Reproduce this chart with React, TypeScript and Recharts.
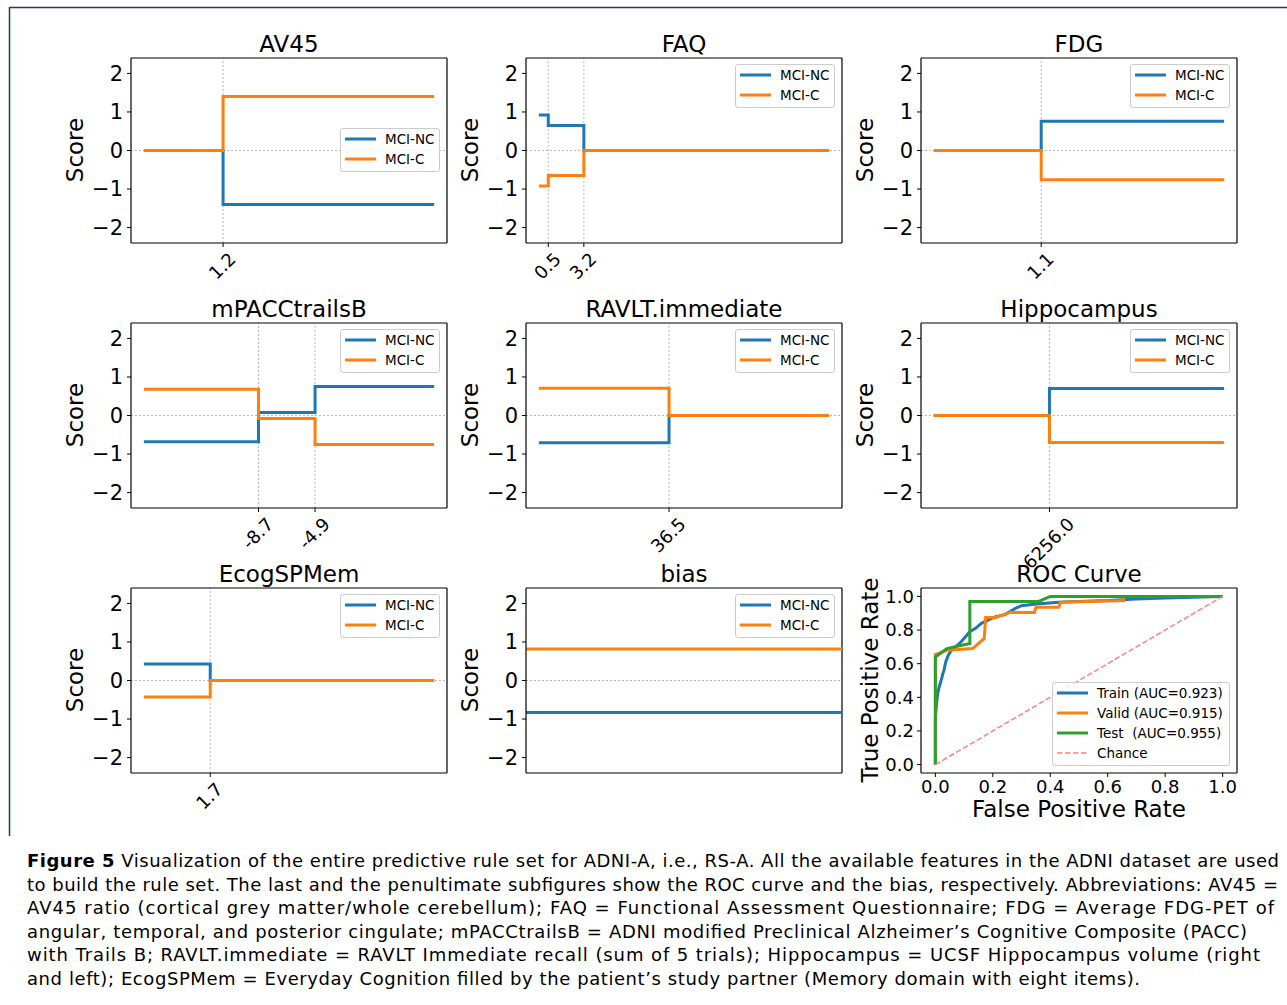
import React from 'react';
import { LineChart, Line, XAxis, YAxis, ReferenceLine, Legend } from 'recharts';

const BLUE = '#1f77b4';
const ORANGE = '#ff7f0e';
const GREEN = '#2ca02c';
const CHANCE = '#ff8080';
const GRIDC = '#b0b0b0';
const FONT = '"DejaVu Sans", Verdana, sans-serif';

// rule plots: breakpoints on the feature axis, score for MCI-NC / MCI-C, cut points
const av45X = [0.87, 1.2, 2.09];
const av45NC = [0, -1.4, -1.4];
const av45C = [0, 1.4, 1.4];
const av45Cuts = [1.2];

const faqX = [-0.1, 0.5, 3.2, 21.7];
const faqNC = [0.92, 0.65, 0, 0];
const faqC = [-0.92, -0.65, 0, 0];
const faqCuts = [0.5, 3.2];

const fdgX = [0.75, 1.1, 1.7];
const fdgNC = [0, 0.76, 0.76];
const fdgC = [0, -0.76, -0.76];
const fdgCuts = [1.1];

const mpaccX = [-16.3, -8.7, -4.9, 3.0];
const mpaccNC = [-0.68, 0.08, 0.75, 0.75];
const mpaccC = [0.68, -0.08, -0.75, -0.75];
const mpaccCuts = [-8.7, -4.9];

const ravltX = [15, 36.5, 63];
const ravltNC = [-0.71, 0, 0];
const ravltC = [0.71, 0, 0];
const ravltCuts = [36.5];

const hippoX = [4000, 6256, 9680];
const hippoNC = [0, 0.7, 0.7];
const hippoC = [0, -0.7, -0.7];
const hippoCuts = [6256];

const ecogX = [1.0, 1.7, 4.1];
const ecogNC = [0.43, 0, 0];
const ecogC = [-0.43, 0, 0];
const ecogCuts = [1.7];

const biasX = [0, 1];
const biasNC = [-0.83, -0.83];
const biasC = [0.82, 0.82];

const scoreTicks = [-2, -1, 0, 1, 2];

// ROC curves
const trainFpr = [0, 0, 0.004, 0.008, 0.013, 0.02, 0.026, 0.03, 0.036, 0.045, 0.056, 0.07, 0.09, 0.105, 0.12, 0.14, 0.16, 0.185, 0.21, 0.24, 0.26, 0.28, 0.3, 0.35, 0.43, 0.5, 0.6, 0.7, 0.8, 0.9, 1.0];
const trainTpr = [0, 0.28, 0.36, 0.42, 0.46, 0.5, 0.54, 0.56, 0.61, 0.65, 0.68, 0.7, 0.73, 0.76, 0.79, 0.81, 0.84, 0.86, 0.88, 0.89, 0.91, 0.93, 0.945, 0.955, 0.965, 0.97, 0.975, 0.985, 0.99, 0.995, 1.0];
const validFpr = [0, 0, 0.04, 0.13, 0.17, 0.175, 0.21, 0.26, 0.345, 0.35, 0.43, 0.435, 0.655, 0.655, 1.0];
const validTpr = [0, 0.655, 0.68, 0.69, 0.75, 0.875, 0.875, 0.905, 0.905, 0.935, 0.935, 0.965, 0.975, 1.0, 1.0];
const testFpr = [0, 0, 0.04, 0.12, 0.12, 0.36, 0.4, 1.0];
const testTpr = [0, 0.64, 0.69, 0.72, 0.97, 0.97, 1.0, 1.0];
const chanceFpr = [0, 1];
const chanceTpr = [0, 1];
const rocTicks = [0, 0.2, 0.4, 0.6, 0.8, 1.0];

const captionLines = [
  ' Visualization of the entire predictive rule set for ADNI-A, i.e., RS-A. All the available features in the ADNI dataset are used',
  'to build the rule set. The last and the penultimate subfigures show the ROC curve and the bias, respectively. Abbreviations: AV45 =',
  'AV45 ratio (cortical grey matter/whole cerebellum); FAQ = Functional Assessment Questionnaire; FDG = Average FDG-PET of',
  'angular, temporal, and posterior cingulate; mPACCtrailsB = ADNI modified Preclinical Alzheimer\u2019s Cognitive Composite (PACC)',
  'with Trails B; RAVLT.immediate = RAVLT Immediate recall (sum of 5 trials); Hippocampus = UCSF Hippocampus volume (right',
  'and left); EcogSPMem = Everyday Cognition filled by the patient\u2019s study partner (Memory domain with eight items).',
];
const captionEnds = [1279, 1278, 1274, 1247, 1260, 1140];

interface Panel {
  title: string;
  xs: number[];
  nc: number[];
  c: number[];
  cuts: number[];
  col: number;
  row: number;
  legend: 'upper' | 'center';
  pad: boolean;
}

const panels: Panel[] = [
  { title: 'AV45', xs: av45X, nc: av45NC, c: av45C, cuts: av45Cuts, col: 0, row: 0, legend: 'center', pad: true },
  { title: 'FAQ', xs: faqX, nc: faqNC, c: faqC, cuts: faqCuts, col: 1, row: 0, legend: 'upper', pad: true },
  { title: 'FDG', xs: fdgX, nc: fdgNC, c: fdgC, cuts: fdgCuts, col: 2, row: 0, legend: 'upper', pad: true },
  { title: 'mPACCtrailsB', xs: mpaccX, nc: mpaccNC, c: mpaccC, cuts: mpaccCuts, col: 0, row: 1, legend: 'upper', pad: true },
  { title: 'RAVLT.immediate', xs: ravltX, nc: ravltNC, c: ravltC, cuts: ravltCuts, col: 1, row: 1, legend: 'upper', pad: true },
  { title: 'Hippocampus', xs: hippoX, nc: hippoNC, c: hippoC, cuts: hippoCuts, col: 2, row: 1, legend: 'upper', pad: true },
  { title: 'EcogSPMem', xs: ecogX, nc: ecogNC, c: ecogC, cuts: ecogCuts, col: 0, row: 2, legend: 'upper', pad: true },
  { title: 'bias', xs: biasX, nc: biasNC, c: biasC, cuts: [], col: 1, row: 2, legend: 'upper', pad: false },
];

// plot area placement (page px)
const COLS = [131, 526, 921];
const ROWS = [57.5, 322.5, 587.5];
const PW = 316;
const PH = 185;
const SW = 60; // y axis width
const ST = 10; // top margin
const SR = 10;
const SXH = 75; // x axis height
const LABEL_FS = 23;

const AXLINE = { stroke: '#000', strokeWidth: 1.2 };
const TICKLINE = { stroke: '#000', strokeWidth: 1 };

const minus = (v: number) => (v < 0 ? `\u2212${Math.abs(v)}` : `${v}`);

const ROT_FS = 18;
const labelWidth = (s: string) =>
  s.split('').reduce((a, ch) => a + (ch === '.' ? 0.318 : ch === '-' ? 0.361 : 0.636), 0) * ROT_FS;

const RotTick = (props: any) => {
  const { x, y, payload } = props;
  const label = Number(payload.value).toFixed(1);
  const half = (labelWidth(label) + 0.75 * ROT_FS) / Math.SQRT2 / 2;
  return (
    <g transform={`translate(${x - 1},${y + half + 2})`}>
      <text transform="rotate(-45)" textAnchor="middle" dominantBaseline="central" fontSize={ROT_FS} fontFamily={FONT} fill="#000">
        {label}
      </text>
    </g>
  );
};

interface LegendItem {
  label: string;
  color: string;
  dash?: string;
  w?: number;
}

const LegendBox = ({ items, width }: { items: LegendItem[]; width: number }) => (
  <div
    style={{
      width,
      boxSizing: 'border-box',
      background: 'rgba(255,255,255,0.8)',
      border: '1px solid #cccccc',
      borderRadius: 3,
      padding: '0 0 2px 0',
      fontFamily: FONT,
      fontSize: 13.5,
      color: '#000',
    }}
  >
    {items.map((it) => (
      <div key={it.label} style={{ display: 'flex', alignItems: 'center', height: 20 }}>
        <svg width={31} height={20} style={{ marginLeft: 4, display: 'block' }}>
          <line x1={0} x2={31} y1={10} y2={10} stroke={it.color} strokeWidth={it.w || 3} strokeDasharray={it.dash} />
        </svg>
        <span style={{ marginLeft: 9, whiteSpace: 'pre', lineHeight: '20px' }}>{it.label}</span>
      </div>
    ))}
  </div>
);

const scoreItems: LegendItem[] = [
  { label: 'MCI-NC', color: BLUE },
  { label: 'MCI-C', color: ORANGE },
];

const rocItems: LegendItem[] = [
  { label: 'Train (AUC=0.923)', color: BLUE },
  { label: 'Valid (AUC=0.915)', color: ORANGE },
  { label: 'Test  (AUC=0.955)', color: GREEN },
  { label: 'Chance', color: CHANCE, dash: '5.5 2.5', w: 1.5 },
];

function ScoreChart({ p }: { p: Panel }) {
  const data = p.xs.map((x, i) => ({ x, nc: p.nc[i], c: p.c[i] }));
  const lo = p.xs[0];
  const hi = p.xs[p.xs.length - 1];
  const m = p.pad ? (hi - lo) * 0.05 : 0;
  const legendTop = p.legend === 'upper' ? ST + 6.5 : ST + PH / 2 - 22;
  return (
    <LineChart width={SW + PW + SR} height={ST + PH + SXH} data={data} margin={{ top: ST, right: SR, bottom: 0, left: 0 }}>
      <XAxis
        type="number"
        dataKey="x"
        domain={[lo - m, hi + m]}
        ticks={p.cuts.length ? p.cuts : [lo]}
        interval={0}
        allowDataOverflow
        height={SXH}
        tickSize={4}
        stroke="#000"
        axisLine={AXLINE}
        tickLine={TICKLINE}
        tick={p.cuts.length ? <RotTick /> : false}
      />
      <YAxis
        type="number"
        domain={[-2.4, 2.4]}
        ticks={scoreTicks}
        interval={0}
        allowDataOverflow
        width={SW}
        tickSize={4}
        tickMargin={4}
        stroke="#000"
        axisLine={AXLINE}
        tickLine={TICKLINE}
        tickFormatter={minus}
        tick={{ fontSize: 21, fill: '#000', fontFamily: FONT }}
      />
      <ReferenceLine y={0} stroke={GRIDC} strokeWidth={0.9} strokeDasharray="2 2" />
      {p.cuts.map((v) => (
        <ReferenceLine key={v} x={v} stroke={GRIDC} strokeWidth={0.9} strokeDasharray="2 2" />
      ))}
      <ReferenceLine y={2.4} stroke="#000" strokeWidth={1.2} />
      <ReferenceLine x={hi + m} stroke="#000" strokeWidth={1.2} />
      <Line type="stepAfter" dataKey="nc" name="MCI-NC" stroke={BLUE} strokeWidth={3} strokeLinecap="square" dot={false} isAnimationActive={false} />
      <Line type="stepAfter" dataKey="c" name="MCI-C" stroke={ORANGE} strokeWidth={3} strokeLinecap="square" dot={false} isAnimationActive={false} />
      <Legend
        layout="horizontal"
        verticalAlign="middle"
        align="center"
        wrapperStyle={{ left: SW + PW - 107, top: legendTop, width: 100, height: 'auto' }}
        content={() => <LegendBox items={scoreItems} width={100} />}
      />
    </LineChart>
  );
}

const pts = (xs: number[], ys: number[]) => xs.map((x, i) => ({ x, y: ys[i] }));

function RocChart() {
  const fmt = (v: number) => v.toFixed(1);
  return (
    <LineChart width={SW + PW + SR} height={ST + PH + 40} margin={{ top: ST, right: SR, bottom: 0, left: 0 }}>
      <XAxis
        type="number"
        dataKey="x"
        domain={[-0.05, 1.05]}
        ticks={rocTicks}
        interval={0}
        allowDataOverflow
        height={40}
        tickSize={4}
        tickMargin={3}
        stroke="#000"
        axisLine={AXLINE}
        tickLine={TICKLINE}
        tickFormatter={fmt}
        tick={{ fontSize: 18, fill: '#000', fontFamily: FONT }}
      />
      <YAxis
        type="number"
        domain={[-0.05, 1.05]}
        ticks={rocTicks}
        interval={0}
        allowDataOverflow
        width={SW}
        tickSize={4}
        tickMargin={3}
        stroke="#000"
        axisLine={AXLINE}
        tickLine={TICKLINE}
        tickFormatter={fmt}
        tick={{ fontSize: 18, fill: '#000', fontFamily: FONT }}
      />
      <ReferenceLine y={1.05} stroke="#000" strokeWidth={1.2} />
      <ReferenceLine x={1.05} stroke="#000" strokeWidth={1.2} />
      <Line data={pts(trainFpr, trainTpr)} dataKey="y" name="Train" stroke={BLUE} strokeWidth={3} dot={false} isAnimationActive={false} />
      <Line data={pts(validFpr, validTpr)} dataKey="y" name="Valid" stroke={ORANGE} strokeWidth={3} dot={false} isAnimationActive={false} />
      <Line data={pts(testFpr, testTpr)} dataKey="y" name="Test" stroke={GREEN} strokeWidth={3} dot={false} isAnimationActive={false} />
      <Line data={pts(chanceFpr, chanceTpr)} dataKey="y" name="Chance" stroke={CHANCE} strokeWidth={1.5} strokeDasharray="5.5 2.5" dot={false} isAnimationActive={false} />
      <Legend
        layout="horizontal"
        verticalAlign="middle"
        align="center"
        wrapperStyle={{ left: SW + PW - 185, top: ST + PH - 91, width: 178, height: 'auto' }}
        content={() => <LegendBox items={rocItems} width={178} />}
      />
    </LineChart>
  );
}

export default function App() {
  return (
    <div style={{ position: 'absolute', left: 0, top: 0, width: 1287, height: 1005, background: '#fff' }}>
      <svg width={1287} height={1005} style={{ position: 'absolute', left: 0, top: 0 }} fontFamily={FONT}>
        <line x1={9} y1={7.5} x2={1287} y2={7.5} stroke="#1c3b60" strokeWidth={1.5} />
        <line x1={9.5} y1={7} x2={9.5} y2={836} stroke="#1c3b60" strokeWidth={1.5} />
        {panels.map((p) => (
          <g key={p.title}>
            <text x={COLS[p.col] + PW / 2} y={ROWS[p.row] - 6} textAnchor="middle" fontSize={LABEL_FS} fill="#000">
              {p.title}
            </text>
            <text
              x={COLS[p.col] - 48}
              y={ROWS[p.row] + PH / 2}
              transform={`rotate(-90, ${COLS[p.col] - 48}, ${ROWS[p.row] + PH / 2})`}
              textAnchor="middle"
              fontSize={LABEL_FS}
              fill="#000"
            >
              Score
            </text>
          </g>
        ))}
        <text x={COLS[2] + PW / 2} y={ROWS[2] - 6} textAnchor="middle" fontSize={LABEL_FS} fill="#000">
          ROC Curve
        </text>
        <text
          x={COLS[2] - 43}
          y={ROWS[2] + PH / 2}
          transform={`rotate(-90, ${COLS[2] - 43}, ${ROWS[2] + PH / 2})`}
          textAnchor="middle"
          fontSize={LABEL_FS}
          fill="#000"
        >
          True Positive Rate
        </text>
        <text x={COLS[2] + PW / 2} y={817} textAnchor="middle" fontSize={LABEL_FS} fill="#000">
          False Positive Rate
        </text>
        {captionLines.map((ln, i) => (
          <text key={i} x={27} y={867 + i * 23.6} fontSize={18} fill="#000" textLength={captionEnds[i] - 27} lengthAdjust="spacing">
            {i === 0 ? <tspan fontWeight="bold">Figure 5</tspan> : null}
            {ln}
          </text>
        ))}
      </svg>
      {panels.map((p) => (
        <div key={p.title} style={{ position: 'absolute', left: COLS[p.col] - SW, top: ROWS[p.row] - ST }}>
          <ScoreChart p={p} />
        </div>
      ))}
      <div style={{ position: 'absolute', left: COLS[2] - SW, top: ROWS[2] - ST }}>
        <RocChart />
      </div>
    </div>
  );
}
